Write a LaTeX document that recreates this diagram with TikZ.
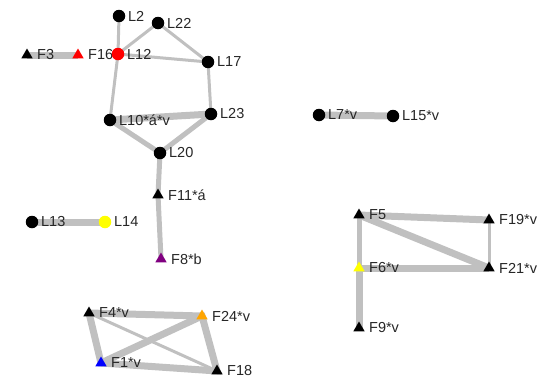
\documentclass[tikz,border=0pt]{standalone}
\usepackage{fontspec}
\setmainfont{Liberation Sans}
\usetikzlibrary{shapes.geometric,backgrounds}
\definecolor{edgegray}{HTML}{C0C0C0}
\definecolor{mkpurple}{HTML}{800080}
\definecolor{mkorange}{HTML}{FFA500}
\definecolor{mkyellow}{HTML}{FFFF00}
\begin{document}
\begin{tikzpicture}[x=1pt, y=-1pt,
    every label/.style={inner sep=1pt, text=black!85, font=\fontsize{14.5}{16}\selectfont},
    lnode/.style={circle, fill=#1, inner sep=0pt, minimum size=12.5pt},
    lnode/.default=black,
    fnode/.style={regular polygon, regular polygon sides=3, fill=#1, inner sep=0pt, minimum size=13pt},
    fnode/.default=black,
    lnk/.style={draw=edgegray, line width=3pt},
    wlnk/.style={draw=edgegray, line width=5pt},
    xlnk/.style={draw=edgegray, line width=7pt}]
    \useasboundingbox (0,0) rectangle (539,378);
    % triangle markers
    \begin{scope}[every label/.append style={xshift=5pt}]
        \node [fnode, label=right:F3] (F3) at (27,55) {};
        \node [fnode=red, label=right:F16] (F16) at (78,55) {};
        \node [fnode, label=right:F11*á] (F11) at (158,195) {};
        \node [fnode=mkpurple, label=right:F8*b] (F8) at (161,259) {};
        \node [fnode, label=right:F5] (F5) at (359,215) {};
        \node [fnode, label=right:F19*v] (F19) at (489,220) {};
        \node [fnode=mkyellow, label=right:F6*v] (F6) at (359,268) {};
        \node [fnode, label=right:F21*v] (F21) at (489,268) {};
        \node [fnode, label=right:F9*v] (F9) at (359,328) {};
        \node [fnode, label=right:F4*v] (F4) at (89,313) {};
        \node [fnode=mkorange, label=right:F24*v] (F24) at (202,316) {};
        \node [fnode=blue, label=right:F1*v] (F1) at (101,363) {};
        \node [fnode, label=right:F18] (F18) at (217,371) {};
    \end{scope}
    % circle markers
    \begin{scope}[every label/.append style={xshift=1.5pt}]
        \node [lnode, label=right:L2] (L2) at (119,16) {};
        \node [lnode, label=right:L22] (L22) at (158,23) {};
        \node [lnode=red, label=right:L12] (L12) at (118,54) {};
        \node [lnode, label=right:L17] (L17) at (208,62) {};
        \node [lnode, label=right:L23] (L23) at (211,114) {};
        \node [lnode, label=right:L10*á*v] (L10) at (110,120) {};
        \node [lnode, label=right:L20] (L20) at (160,153) {};
        \node [lnode, label=right:L13] (L13) at (32,222) {};
        \node [lnode=mkyellow, label=right:L14] (L14) at (105,222) {};
        \node [lnode, label=right:L7*v] (L7) at (319,115) {};
        \node [lnode, label=right:L15*v] (L15) at (393,116) {};
    \end{scope}
    % links
    \begin{scope}[on background layer]
        \draw [xlnk] (F3.center) -- (F16.center);
        \draw [lnk] (L2.center) -- (L12.center);
        \draw [lnk] (L12.center) -- (L22.center) -- (L17.center) -- (L12.center);
        \draw [lnk] (L12.center) -- (L10.center);
        \draw [lnk] (L17.center) -- (L23.center);
        \draw [xlnk] (L10.center) -- (L23.center);
        \draw [wlnk] (L10.center) -- (L20.center) -- (L23.center);
        \draw [wlnk] (L20.center) -- (F11.center) -- (F8.center);
        \draw [xlnk] (L13.center) -- (L14.center);
        \draw [xlnk] (L7.center) -- (L15.center);
        \draw [xlnk] (F5.center) -- (F19.center);
        \draw [xlnk] (F5.center) -- (F21.center);
        \draw [lnk] (F19.center) -- (F21.center);
        \draw [xlnk] (F6.center) -- (F21.center);
        \draw [wlnk] (F5.center) -- (F6.center);
        \draw [xlnk] (F6.center) -- (F9.center);
        \draw [xlnk] (F4.center) -- (F24.center) -- (F18.center) -- (F1.center) -- (F4.center);
        \draw [xlnk] (F24.center) -- (F1.center);
        \draw [lnk] (F4.center) -- (F18.center);
    \end{scope}
\end{tikzpicture}
\end{document}
